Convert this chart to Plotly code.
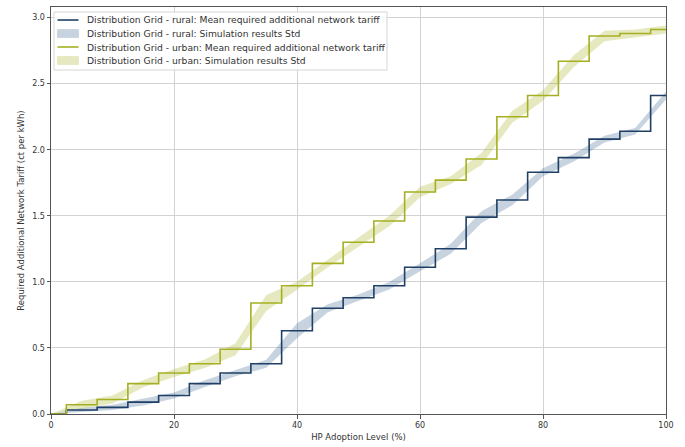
import plotly.graph_objects as go

x = [0, 5, 10, 15, 20, 25, 30, 35, 40, 45, 50, 55, 60, 65, 70, 75, 80, 85, 90, 95, 100]

rural_mean = [0.0, 0.03, 0.05, 0.09, 0.14, 0.23, 0.31, 0.38, 0.63, 0.80, 0.88, 0.97, 1.11, 1.25,
              1.49, 1.62, 1.83, 1.94, 2.08, 2.14, 2.41]
rural_std = [0.0, 0.015, 0.02, 0.025, 0.023, 0.025, 0.025, 0.03, 0.057, 0.03, 0.025, 0.028, 0.03,
             0.038, 0.045, 0.04, 0.03, 0.03, 0.025, 0.025, 0.03]

urban_mean = [0.0, 0.07, 0.11, 0.23, 0.31, 0.38, 0.49, 0.84, 0.97, 1.14, 1.30, 1.46, 1.68, 1.77,
              1.93, 2.25, 2.41, 2.67, 2.86, 2.88, 2.91]
urban_std = [0.0, 0.03, 0.03, 0.028, 0.03, 0.032, 0.045, 0.06, 0.03, 0.03, 0.035, 0.04, 0.04, 0.03,
             0.045, 0.045, 0.04, 0.045, 0.04, 0.03, 0.03]

y_ticks = [0.0, 0.5, 1.0, 1.5, 2.0, 2.5, 3.0]
x_ticks = [0, 20, 40, 60, 80, 100]

legend_labels = [
    "Distribution Grid - rural: Mean required additional network tariff",
    "Distribution Grid - rural: Simulation results Std",
    "Distribution Grid - urban: Mean required additional network tariff",
    "Distribution Grid - urban: Simulation results Std",
]

RURAL = "#1f3f66"
URBAN = "#a4b021"
RURAL_FILL = "rgba(70,110,150,0.30)"
URBAN_FILL = "rgba(165,175,30,0.28)"

fig = go.Figure()

def add_band(mean, std, fill, name):
    lo = [m - s for m, s in zip(mean, std)]
    hi = [m + s for m, s in zip(mean, std)]
    fig.add_trace(go.Scatter(x=x, y=lo, mode="lines", line=dict(width=0, color=fill),
                             showlegend=False, hoverinfo="skip"))
    fig.add_trace(go.Scatter(x=x, y=hi, mode="lines", line=dict(width=0, color=fill),
                             fill="tonexty", fillcolor=fill, name=name, showlegend=False))

add_band(rural_mean, rural_std, RURAL_FILL, legend_labels[1])
add_band(urban_mean, urban_std, URBAN_FILL, legend_labels[3])
fig.add_trace(go.Scatter(x=x, y=rural_mean, mode="lines", line=dict(color=RURAL, width=1.6, shape="hvh"),
                         name=legend_labels[0], showlegend=False))
fig.add_trace(go.Scatter(x=x, y=urban_mean, mode="lines", line=dict(color=URBAN, width=1.6, shape="hvh"),
                         name=legend_labels[2], showlegend=False))

# ---- matplotlib-style legend box (plot-area pixel geometry: x 51..666, y 7..414)
L, R, T, B = 51.0, 666.0, 7.0, 414.0
def px(v):
    return (v - L) / (R - L)
def py(v):
    return (B - v) / (B - T)

shapes = [dict(type="rect", xref="paper", yref="paper", x0=px(54), x1=px(387), y0=py(70), y1=py(12),
               fillcolor="rgba(255,255,255,0.85)", line=dict(color="#d6d6d6", width=1), layer="above")]
annotations = []
rows_y = [20.0, 33.5, 47.0, 60.5]
styles = [("line", RURAL), ("fill", RURAL_FILL), ("line", URBAN), ("fill", URBAN_FILL)]
for (kind, col), yy, lab in zip(styles, rows_y, legend_labels):
    if kind == "line":
        shapes.append(dict(type="line", xref="paper", yref="paper", x0=px(57.5), x1=px(78.5),
                           y0=py(yy), y1=py(yy), line=dict(color=col, width=1.6), layer="above"))
    else:
        shapes.append(dict(type="rect", xref="paper", yref="paper", x0=px(57.5), x1=px(78.5),
                           y0=py(yy + 4), y1=py(yy - 4), fillcolor=col,
                           line=dict(color=col, width=0.5), layer="above"))
    annotations.append(dict(xref="paper", yref="paper", x=px(84.5), y=py(yy), text=lab,
                            showarrow=False, xanchor="left", yanchor="middle",
                            font=dict(family="DejaVu Sans", size=9.2, color="#333333")))

fig.update_layout(
    width=685, height=447,
    margin=dict(l=51, r=19, t=7, b=33),
    paper_bgcolor="white", plot_bgcolor="white",
    font=dict(family="DejaVu Sans", size=8, color="#333333"),
    showlegend=False,
    shapes=shapes,
    annotations=annotations,
)
fig.update_xaxes(range=[0, 100], tickvals=x_ticks, ticktext=[str(t) for t in x_ticks],
                 showgrid=True, gridcolor="#d3d3d3", gridwidth=1,
                 showline=True, linecolor="#555555", linewidth=1, mirror=True,
                 ticks="outside", ticklen=3.5, tickcolor="#555555",
                 zeroline=False,
                 title=dict(text="HP Adoption Level (%)", standoff=4, font=dict(size=8.5)))
fig.update_yaxes(range=[0, 3.08], tickvals=y_ticks, ticktext=[f"{t:.1f}" for t in y_ticks],
                 showgrid=True, gridcolor="#d3d3d3", gridwidth=1,
                 showline=True, linecolor="#555555", linewidth=1, mirror=True,
                 ticks="outside", ticklen=3.5, tickcolor="#555555",
                 zeroline=False,
                 title=dict(text="Required Additional Network Tariff (ct per kWh)", standoff=6,
                            font=dict(size=8.5)))

fig.write_html("out.html", config={"displayModeBar": False},
               post_script="document.body.style.margin='0';document.body.style.overflow='hidden';")
